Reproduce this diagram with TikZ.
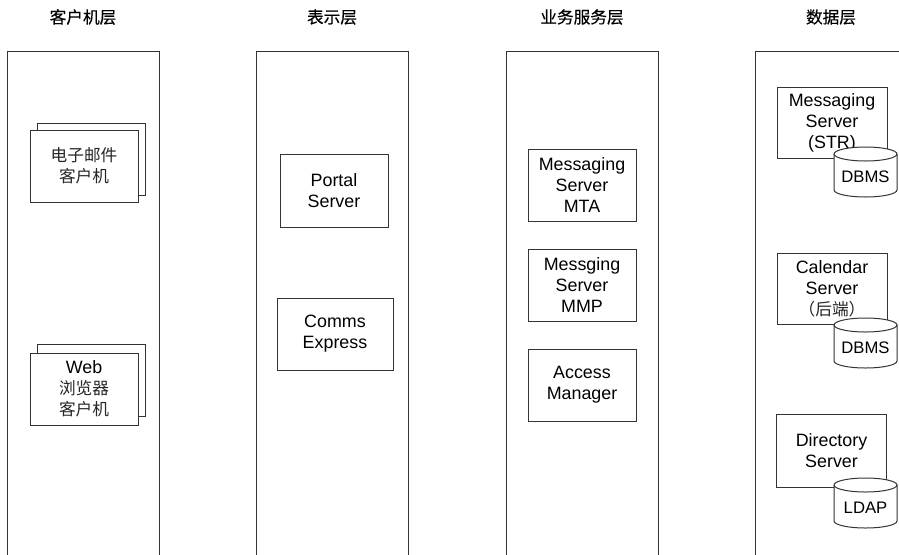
\documentclass[tikz,border=0pt]{standalone}
\usepackage{fontspec}
\setmainfont{Liberation Sans}
\newfontfamily\cjk{Noto Sans CJK SC}
\newfontfamily\cjktitle[FakeBold=0.35]{Noto Sans CJK SC}
\newcommand\lat{\fontsize{13.4pt}{15.75pt}\selectfont}
\newcommand\zh[1]{{\cjk\fontsize{12.5pt}{15.5pt}\selectfont\color{black!85}#1}}
\newcommand\dbcyl[4]{%
  % #1 name, #2 top-centre x, #3 top-centre y, #4 label
  \filldraw[cylline] ($(#2,#3)+(-31.5,0)$) -- ($(#2,#3)+(-31.5,36)$)
     arc[start angle=180,end angle=360,x radius=23.625pt,y radius=5.25pt]
     -- ($(#2,#3)+(31.5,0)$)
     arc[start angle=0,end angle=180,x radius=23.625pt,y radius=5.25pt] -- cycle;
  \draw[cylline] ($(#2,#3)+(-31.5,0)$)
     arc[start angle=180,end angle=360,x radius=23.625pt,y radius=5.25pt];
  \node[dblbl] (#1) at ($(#2,#3)+(0,23)$) {#4};
}
\usetikzlibrary{calc}
\begin{document}
\begin{tikzpicture}[x=0.75pt,y=-0.75pt,
  sz/.style 2 args={minimum width=#1*0.75pt, minimum height=#2*0.75pt},
  colbox/.style={draw=black!80, line width=1.1pt, inner sep=0pt, anchor=north west},
  box/.style={draw=black!80, line width=0.75pt, fill=white, align=center, inner sep=0pt, font=\lat},
  backbox/.style={draw=black!80, line width=0.75pt, fill=white, inner sep=0pt},
  title/.style={font=\cjktitle\fontsize{12.5pt}{15pt}\selectfont},
  cylline/.style={draw=black!80, line width=0.75pt, fill=white},
  dblbl/.style={font=\fontsize{12.5pt}{14pt}\selectfont, inner sep=0pt},
]
\useasboundingbox (0,0) rectangle (899,554);
\clip (0,0) rectangle (899,554);

% titles
\node[title] (t1) at (83,17) {客户机层};
\node[title] (t2) at (332,17) {表示层};
\node[title] (t3) at (582,17) {业务服务层};
\node[title] (t4) at (831,17) {数据层};

% columns
\node[colbox, sz={152}{530}] (c1) at (7,51) {};
\node[colbox, sz={152}{530}] (c2) at (256,51) {};
\node[colbox, sz={152}{530}] (c3) at (506,51) {};
\node[colbox, sz={152}{530}] (c4) at (755,51) {};

% client tier
\node[backbox, sz={108}{72}] (mailback) at (91,159) {};
\node[box, sz={108}{72}] (mail) at (84,166) {\zh{电子邮件}\\\zh{客户机}};
\node[backbox, sz={108}{72}] (webback) at (91,380) {};
\node[box, sz={108}{72}] (web) at (84,389) {Web\\\zh{浏览器}\\\zh{客户机}};

% presentation tier
\node[box, sz={108}{73}] (portal) at (334,190.5) {Portal\\Server};
\node[box, sz={116}{72}] (comms) at (335,334) {Comms\\Express};

% business tier
\node[box, sz={108}{72}] (mta) at (582,185) {Messaging\\Server\\MTA};
\node[box, sz={108}{72}] (mmp) at (582,285) {Messging\\Server\\MMP};
\node[box, sz={108}{72}] (am) at (582,385) {Access\\Manager};

% data tier
\node[box, sz={110}{71}] (str) at (832,122.5) {Messaging\\Server\\(STR)};
\dbcyl{db1}{865.5}{154}{DBMS}
\node[box, sz={110}{71}] (cal) at (832,288.5) {Calendar\\Server\\\zh{（后端）}};
\dbcyl{db2}{865.5}{325}{DBMS}
\node[box, sz={110}{73}] (dir) at (831.5,450.5) {Directory\\Server};
\dbcyl{db3}{865.5}{485}{LDAP}
\end{tikzpicture}
\end{document}
